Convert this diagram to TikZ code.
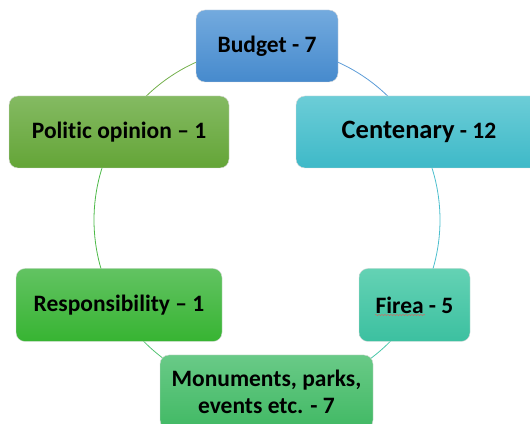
\documentclass[tikz,border=0pt]{standalone}
\usepackage{fontspec}
\setmainfont{Carlito}[Ligatures={TeX,NoCommon}]
\usetikzlibrary{decorations.pathmorphing}
\begin{document}
\begin{tikzpicture}[x=1pt,y=1pt,
  box/.style={rectangle, rounded corners=9pt, draw=white!85!black, line width=0.4pt,
    font=\fontsize{23.5}{27}\selectfont\bfseries, align=center, inner sep=0pt},
  arcline/.style={line width=0.8pt},
]
\useasboundingbox (0,0) rectangle (530,423);
\clip (0,0) rectangle (530,423);
\coordinate (c) at (267,203);
% cycle arcs
\definecolor{cBudget}{RGB}{90,155,215}
\definecolor{cCent}{RGB}{75,190,205}
\definecolor{cFirea}{RGB}{75,200,170}
\definecolor{cMonu}{RGB}{85,195,115}
\definecolor{cResp}{RGB}{75,185,70}
\definecolor{cPol}{RGB}{115,175,75}
\draw[arcline,cBudget] (c) ++(90:173pt) arc[start angle=90,end angle=30,radius=173pt];
\draw[arcline,cCent] (c) ++(30:173pt) arc[start angle=30,end angle=-30,radius=173pt];
\draw[arcline,cFirea] (c) ++(-30:173pt) arc[start angle=-30,end angle=-90,radius=173pt];
\draw[arcline,cMonu] (c) ++(-90:173pt) arc[start angle=-90,end angle=-150,radius=173pt];
\draw[arcline,cResp] (c) ++(-150:173pt) arc[start angle=-150,end angle=-210,radius=173pt];
\draw[arcline,cPol] (c) ++(-210:173pt) arc[start angle=-210,end angle=-270,radius=173pt];
% nodes
\node[box, minimum width=142pt, minimum height=72pt,
  top color={rgb,255:red,115;green,170;blue,222}, bottom color={rgb,255:red,70;green,138;blue,205}]
  (budget) at (267,377) {Budget - 7};
\node[box, minimum width=220pt, minimum height=72pt,
  top color={rgb,255:red,132;green,186;blue,98}, bottom color={rgb,255:red,100;green,165;blue,55}]
  (politic) at (119,291) {Politic opinion – 1};
\node[box, minimum width=246pt, minimum height=72pt,
  top color={rgb,255:red,108;green,205;blue,215}, bottom color={rgb,255:red,62;green,185;blue,200}]
  (cent) at (419,291) {{\fontsize{26.5}{30}\selectfont Centenary} - 12};
\node[box, minimum width=206pt, minimum height=73pt,
  top color={rgb,255:red,98;green,195;blue,98}, bottom color={rgb,255:red,55;green,180;blue,50}]
  (resp) at (119,118) {Responsibility – 1};
\node[box, minimum width=111pt, minimum height=73pt,
  top color={rgb,255:red,100;green,210;blue,180}, bottom color={rgb,255:red,60;green,192;blue,160}]
  (firea) at (414.5,118) {Firea - 5};
\node[box, minimum width=213pt, minimum height=74pt,
  top color={rgb,255:red,105;green,202;blue,135}, bottom color={rgb,255:red,65;green,185;blue,100}]
  (monu) at (266.5,31) {Monuments, parks,\\events etc. - 7};
% spell-check underline under "Firea"
\coordinate (ul1) at (375,108);
\coordinate (ul2) at (425,108);
\draw[red!70!white, line width=0.4pt, decorate, decoration={snake, amplitude=0.5pt, segment length=3pt}] (ul1) -- (ul2);
\end{tikzpicture}
\end{document}
